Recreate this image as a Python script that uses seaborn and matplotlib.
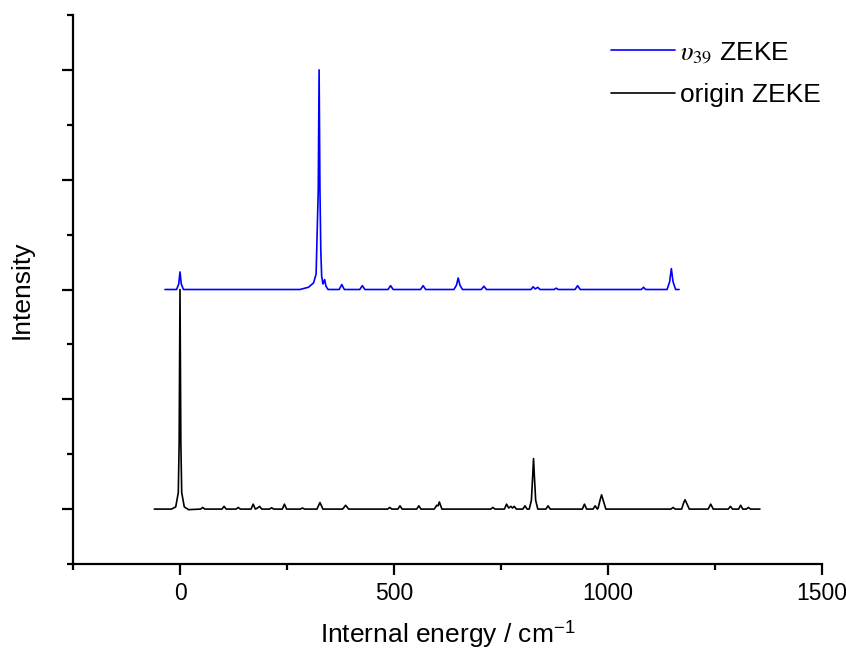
import matplotlib
matplotlib.use("Agg")
import matplotlib.pyplot as plt
from matplotlib.ticker import MultipleLocator
import seaborn as sns
import pandas as pd

# ---------------- data ----------------
origin_energy = [
    -60, -20, -10, -4, -2, 0, 2, 4, 10, 20,
    48, 53, 58, 98, 103, 108, 131, 136, 141,
    166, 171, 176, 181, 186, 191, 209, 214, 219,
    239, 244, 249, 281, 286, 291, 320, 327, 334,
    380, 387, 394, 485, 490, 495, 509, 514, 519,
    553, 558, 563, 594, 600, 603, 606, 612,
    726, 731, 736, 758, 763, 768, 773, 777, 781, 786,
    801, 806, 811, 816, 821, 824, 826, 828, 831, 836,
    855, 860, 865, 940, 945, 950, 965, 970, 975,
    977, 982, 985, 988, 995,
    1147, 1152, 1157, 1172, 1177, 1180, 1183, 1190,
    1234, 1240, 1246, 1281, 1286, 1291, 1305, 1310, 1315,
    1323, 1328, 1333, 1355,
]
origin_intensity = [
    0.0, 0.0, 0.02, 0.15, 0.6, 2.0, 0.6, 0.15, 0.02, -0.005,
    0.0, 0.015, 0.0, 0.0, 0.025, 0.0, 0.0, 0.015, 0.0,
    0.0, 0.045, 0.0, 0.01, 0.025, 0.0, 0.0, 0.012, 0.0,
    0.0, 0.045, 0.0, 0.0, 0.01, 0.0, 0.0, 0.06, 0.0,
    0.0, 0.035, 0.0, 0.0, 0.015, 0.0, 0.0, 0.03, 0.0,
    0.0, 0.03, 0.0, 0.0, 0.035, 0.03, 0.065, 0.0,
    0.0, 0.015, 0.0, 0.0, 0.045, 0.01, 0.025, 0.01, 0.025, 0.0,
    0.0, 0.03, 0.0, 0.0, 0.08, 0.3, 0.46, 0.3, 0.08, 0.0,
    0.0, 0.03, 0.0, 0.0, 0.045, 0.0, 0.0, 0.03, 0.0,
    0.01, 0.09, 0.13, 0.09, 0.0,
    0.0, 0.015, 0.0, 0.0, 0.06, 0.085, 0.06, 0.0,
    0.0, 0.045, 0.0, 0.0, 0.025, 0.0, 0.0, 0.035, 0.0,
    0.0, 0.015, 0.0, 0.0,
]

v39_energy = [
    -35, -8, -3, 0, 3, 8,
    280, 300, 312, 318, 321, 323, 325, 327, 329, 331, 334, 338, 341, 346,
    372, 378, 384, 420, 426, 432, 486, 492, 498, 562, 568, 574,
    640, 646, 650, 654, 660, 704, 710, 716,
    820, 825, 830, 836, 841, 874, 879, 884, 923, 929, 935,
    1078, 1083, 1088, 1138, 1144, 1148, 1152, 1158, 1166,
]
v39_intensity = [
    0.0, 0.0, 0.05, 0.16, 0.05, 0.0,
    0.0, 0.02, 0.06, 0.14, 0.6, 0.9, 2.0, 0.9, 0.35, 0.12, 0.05, 0.09, 0.03, 0.0,
    0.0, 0.045, 0.0, 0.0, 0.035, 0.0, 0.0, 0.035, 0.0, 0.0, 0.035, 0.0,
    0.0, 0.04, 0.105, 0.04, 0.0, 0.0, 0.03, 0.0,
    0.0, 0.025, 0.005, 0.02, 0.0, 0.0, 0.012, 0.0, 0.0, 0.035, 0.0,
    0.0, 0.02, 0.0, 0.0, 0.07, 0.19, 0.07, 0.0, 0.0,
]

series_labels = [r"$\upsilon_{39}$ ZEKE", "origin ZEKE"]
series_offsets = [2.0, 0.0]          # vertical stacking of the spectra
x_ticks = [0, 500, 1000, 1500]

# ---------------- build table ----------------
frames = []
for lab, off, e, i in zip(series_labels, series_offsets,
                          [v39_energy, origin_energy],
                          [v39_intensity, origin_intensity]):
    frames.append(pd.DataFrame({"energy": e,
                                "intensity": [v + off for v in i],
                                "series": lab}))
df = pd.concat(frames, ignore_index=True)

# ---------------- style ----------------
sns.set_style("ticks")
plt.rcParams["font.family"] = ["Liberation Sans", "DejaVu Sans"]
plt.rcParams["mathtext.fontset"] = "stix"
plt.rcParams["text.color"] = "black"
plt.rcParams["axes.labelcolor"] = "black"
plt.rcParams["xtick.color"] = "black"
plt.rcParams["ytick.color"] = "black"

fig = plt.figure(figsize=(8.46, 6.52), dpi=100)
ax = fig.add_axes([73 / 846, 1 - 564 / 652, (822 - 73) / 846, (564 - 15) / 652])

palette = {series_labels[0]: "#0000ff", series_labels[1]: "#000000"}
sns.lineplot(data=df, x="energy", y="intensity", hue="series",
             hue_order=series_labels, palette=palette, sort=False,
             estimator=None, linewidth=1.2, ax=ax)

ax.set_xlim(-250, 1500)
ax.set_ylim(-0.5, 4.5)
ax.set_xticks(x_ticks)
ax.xaxis.set_minor_locator(MultipleLocator(250))
ax.yaxis.set_major_locator(MultipleLocator(1))
ax.yaxis.set_minor_locator(MultipleLocator(0.5))
ax.tick_params(axis="both", which="major", direction="out", length=8,
               width=1.6, labelsize=16.5, colors="black", pad=5)
ax.tick_params(axis="both", which="minor", direction="out", length=4.5,
               width=1.6, colors="black")
ax.tick_params(axis="y", labelleft=False)
for s in ["top", "right"]:
    ax.spines[s].set_visible(False)
for s in ["left", "bottom"]:
    ax.spines[s].set_linewidth(1.6)
    ax.spines[s].set_color("black")

ax.set_xlabel(r"Internal energy / cm$^{\mathregular{-1}}$", fontsize=19,
              labelpad=9, color="black")
ax.set_ylabel("Intensity", fontsize=19, labelpad=20, color="black")

handles, labels = ax.get_legend_handles_labels()
leg = ax.legend(handles, labels, loc="upper right", bbox_to_anchor=(1.03, 0.998),
                frameon=False, fontsize=19, handlelength=2.4,
                handletextpad=0.2, labelspacing=0.7)
for t in leg.get_texts():
    t.set_color("black")

fig.savefig("out.png", dpi=100)
